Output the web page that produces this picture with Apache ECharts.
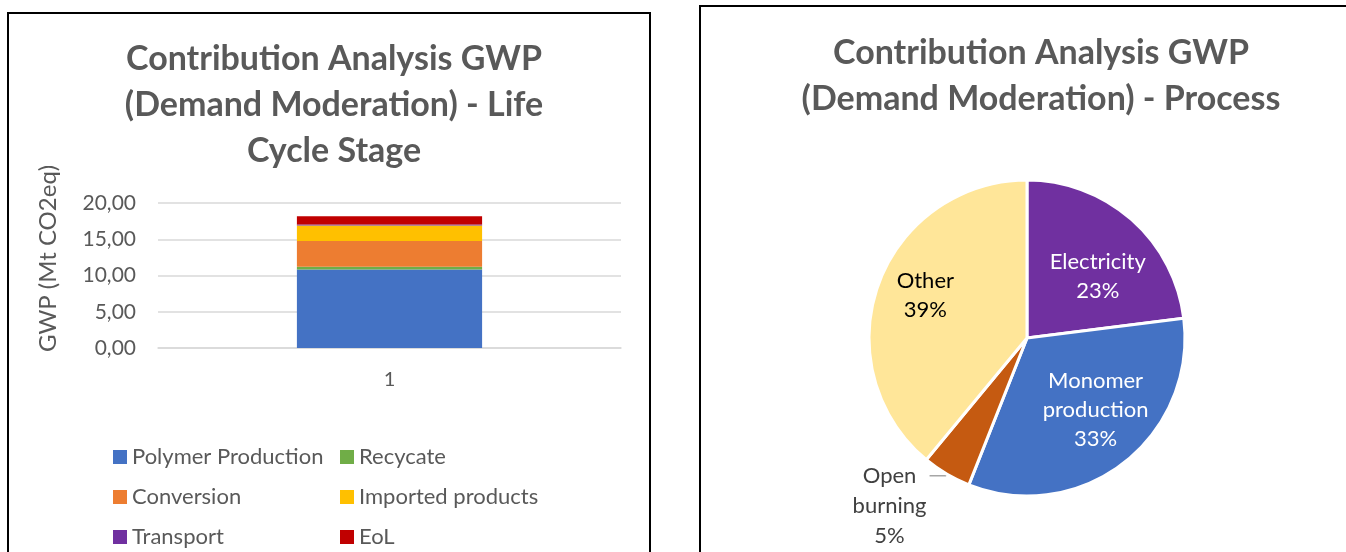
<!DOCTYPE html>
<html>
<head>
<meta charset="utf-8">
<title>Contribution Analysis GWP</title>
<script src="https://cdn.jsdelivr.net/npm/echarts@6/dist/echarts.min.js"></script>
<style>
  html, body { margin: 0; padding: 0; background: #fff; }
  #main { width: 1346px; height: 552px; }
</style>
</head>
<body>
<div id="main"></div>
<script>
// bar chart: life cycle stages (Mt CO2eq), stacked bottom -> top
var stageNames  = ['Polymer Production', 'Recycate', 'Conversion', 'Imported products', 'Transport', 'EoL'];
var stageValues = [10.82, 0.37, 3.56, 2.15, 0.14, 1.14];
var stageColors = ['#4472c4', '#70ad47', '#ed7d31', '#ffc000', '#7030a0', '#c00000'];
var barCategories = ['1'];
var yTicks = [0, 5, 10, 15, 20];

// pie chart: process share (%)
var procNames  = ['Electricity', 'Monomer\nproduction', 'Open\nburning', 'Other'];
var procValues = [23, 33, 5, 39];
var procColors = ['#7030a0', '#4472c4', '#c55a11', '#ffe699'];
var procLabelColors = ['#ffffff', '#ffffff', '#404040', '#000000'];
// nudges so the inside labels sit where excel put them
var procLabelShift = [[0, 19], [3, -13], [0, 0], [-1, -6]];

var FONT = 'Lato';
var GREY = '#595959';

var chart = echarts.init(document.getElementById('main'));

var barSeries = stageNames.map(function (n, i) {
    return {
        name: n,
        type: 'bar',
        stack: 'gwp',
        barWidth: '40%',
        itemStyle: { color: stageColors[i] },
        data: [stageValues[i]]
    };
});

var pieMain = {
    type: 'pie',
    center: [1027, 338],
    radius: [0, 158],
    startAngle: 90,
    clockwise: true,
    silent: true,
    itemStyle: { borderColor: '#fff', borderWidth: 3 },
    labelLine: { show: false },
    label: { show: false },
    data: procNames.map(function (n, i) {
        var d = { name: n, value: procValues[i], itemStyle: { color: procColors[i] } };
        if (i === 2) {
            // the small slice gets an outside label with a leader line
            d.label = {
                show: true,
                position: 'outside',
                padding: [60, 0, 0, 0],
                formatter: function (p) {
                    return p.name.split('\n').map(function (s) { return '{t|' + s + '}'; }).join('\n') + '\n{t|' + p.value + '%}';
                },
                rich: { t: { width: 70, align: 'center', fontFamily: FONT, fontSize: 22, lineHeight: 30, color: procLabelColors[i] } }
            };
            d.labelLine = { show: true, length: 2, length2: 16, lineStyle: { color: '#a6a6a6', width: 1.5 } };
        }
        return d;
    })
};

// transparent ring on top only to seat the inside labels further out
var pieLabels = {
    type: 'pie',
    center: [1027, 338],
    radius: [50, 158],
    startAngle: 90,
    clockwise: true,
    silent: true,
    itemStyle: { color: 'rgba(0,0,0,0)' },
    labelLine: { show: false },
    label: {
        position: 'inside',
        fontFamily: FONT,
        fontSize: 22,
        lineHeight: 29,
        formatter: function (p) { return p.name + '\n' + p.value + '%'; }
    },
    labelLayout: function (p) {
        var s = procLabelShift[p.dataIndex];
        return { dx: s[0], dy: s[1] };
    },
    data: procNames.map(function (n, i) {
        return { name: n, value: procValues[i], label: { show: i !== 2, color: procLabelColors[i] } };
    })
};

function legendCol(items, left) {
    return {
        data: items,
        orient: 'vertical', left: left, top: 446, height: 200, itemGap: 18,
        padding: 0,
        icon: 'rect', itemWidth: 14, itemHeight: 14, itemStyle: { borderWidth: 0 },
        textStyle: { fontFamily: FONT, fontSize: 22, color: GREY },
        selectedMode: false
    };
}

var option = {
    animation: false,
    textStyle: { fontFamily: FONT },
    title: [{
        text: 'Contribution Analysis GWP\n(Demand Moderation) - Life\nCycle Stage',
        left: 329, top: 31, textAlign: 'center',
        textStyle: { fontFamily: FONT, fontSize: 34, fontWeight: 'bold', color: GREY, lineHeight: 46 }
    }, {
        text: 'Contribution Analysis GWP\n(Demand Moderation) - Process',
        left: 1036, top: 25, textAlign: 'center',
        textStyle: { fontFamily: FONT, fontSize: 34, fontWeight: 'bold', color: GREY, lineHeight: 46 }
    }],
    legend: [
        legendCol([stageNames[0], stageNames[2], stageNames[4]], 113),
        legendCol([stageNames[1], stageNames[3], stageNames[5]], 340)
    ],
    grid: { left: 158, right: 725, top: 203, bottom: 204 },
    xAxis: {
        type: 'category',
        data: barCategories,
        axisTick: { show: false },
        axisLine: { lineStyle: { color: '#d9d9d9', width: 1.5 } },
        axisLabel: { color: GREY, fontSize: 20, margin: 22 }
    },
    yAxis: {
        type: 'value',
        min: yTicks[0], max: yTicks[yTicks.length - 1], interval: yTicks[1] - yTicks[0],
        name: 'GWP (Mt CO2eq)',
        nameLocation: 'middle', nameGap: 98,
        nameTextStyle: { color: GREY, fontSize: 24, fontFamily: FONT, padding: [0, 0, 0, 34] },
        axisLine: { show: false },
        axisTick: { show: false },
        axisLabel: {
            color: GREY, fontSize: 21, margin: 22,
            formatter: function (v) { return v.toFixed(2).replace('.', ','); }
        },
        splitLine: { lineStyle: { color: '#d9d9d9', width: 1.5 } }
    },
    graphic: [
        { type: 'rect', shape: { x: 8, y: 13, width: 642, height: 560 }, style: { fill: 'none', stroke: '#000', lineWidth: 2 }, silent: true },
        { type: 'rect', shape: { x: 700, y: 6, width: 700, height: 560 }, style: { fill: 'none', stroke: '#000', lineWidth: 2 }, silent: true }
    ],
    series: barSeries.concat([pieMain, pieLabels])
};

chart.setOption(option);
</script>
</body>
</html>
